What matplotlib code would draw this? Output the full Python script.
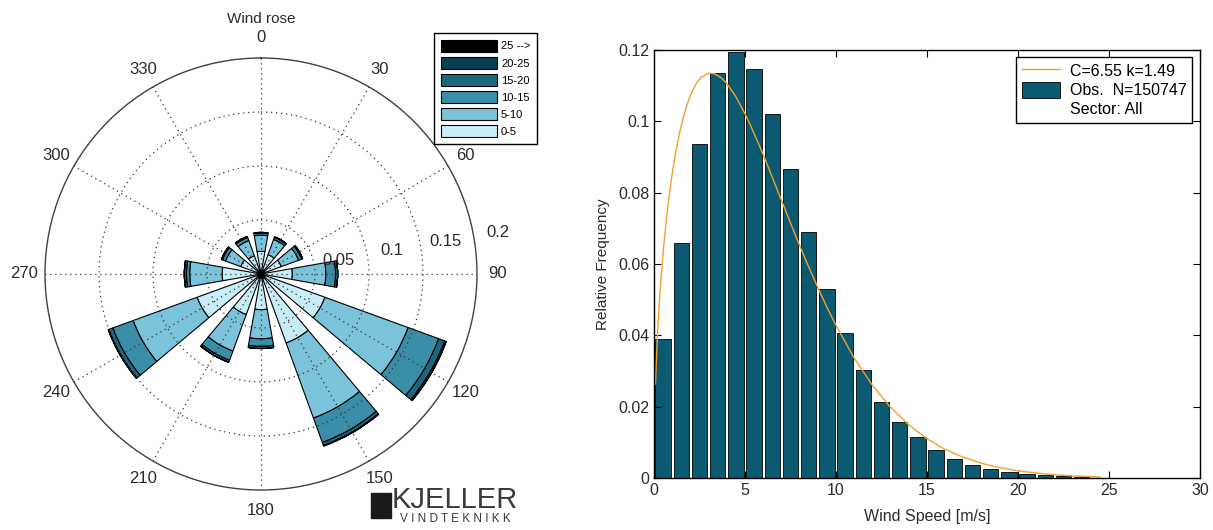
import numpy as np
import matplotlib
matplotlib.use("Agg")
import matplotlib.pyplot as plt
from matplotlib.patches import Patch, Rectangle
from matplotlib.lines import Line2D
from matplotlib.ticker import FuncFormatter

plt.rcParams['font.family'] = ['Liberation Sans', 'DejaVu Sans']

# ---- wind rose data: frequency per sector for each speed class ----
directions = [0, 30, 60, 90, 120, 150, 180, 210, 240, 270, 300, 330]
freq_0_5   = [0.021, 0.019, 0.020, 0.029, 0.063, 0.068, 0.033, 0.040, 0.063, 0.036, 0.020, 0.018]
freq_5_10  = [0.015, 0.015, 0.017, 0.031, 0.082, 0.074, 0.027, 0.036, 0.063, 0.030, 0.015, 0.015]
freq_10_15 = [0.002, 0.002, 0.003, 0.009, 0.030, 0.024, 0.007, 0.009, 0.020, 0.003, 0.003, 0.003]
freq_15_20 = [0.0005, 0.0005, 0.001, 0.002, 0.006, 0.003, 0.002, 0.002, 0.004, 0.002, 0.001, 0.001]
freq_20_25 = [0, 0, 0, 0, 0.0015, 0.0005, 0, 0, 0.0005, 0, 0, 0]
freq_25_up = [0, 0, 0, 0, 0, 0, 0, 0, 0, 0, 0, 0]
speed_classes = ['0-5', '5-10', '10-15', '15-20', '20-25', '25 -->']
class_colors = ['#c8ecf8', '#7bc3da', '#3a8ea8', '#19687f', '#083f50', '#000000']
ring_values = [0.05, 0.1, 0.15, 0.2]

# ---- wind speed distribution ----
bin_centers = [0.5, 1.5, 2.5, 3.5, 4.5, 5.5, 6.5, 7.5, 8.5, 9.5, 10.5, 11.5, 12.5,
               13.5, 14.5, 15.5, 16.5, 17.5, 18.5, 19.5, 20.5, 21.5, 22.5, 23.5, 24.5]
rel_freq = [0.0389, 0.0659, 0.0937, 0.1136, 0.1193, 0.1147, 0.1020, 0.0865, 0.0690,
            0.0529, 0.0406, 0.0304, 0.0212, 0.0157, 0.0115, 0.0079, 0.0054, 0.0037,
            0.0026, 0.0017, 0.0012, 0.0008, 0.0006, 0.0003, 0.0001]
# fitted weibull curve
curve_ws = [0.08, 0.12, 0.2, 0.3, 0.4, 0.55, 0.7, 0.85, 1.0, 1.2, 1.4, 1.6, 1.8, 2.0,
            2.3, 2.6, 3.0, 3.3, 3.7, 4.0, 4.5, 5.0, 5.3, 5.6, 6.0, 6.5, 7.0, 7.5, 8.0,
            8.5, 9.0, 9.5, 10.0, 11.0, 12.0, 13.0, 14.0, 15.0, 16.0, 17.0, 18.0, 19.0,
            20.0, 21.0, 22.0, 23.0, 24.5]
curve_pdf = [0.0263, 0.0320, 0.0409, 0.0497, 0.0569, 0.0659, 0.0734, 0.0798, 0.0853,
             0.0915, 0.0966, 0.1009, 0.1044, 0.1073, 0.1104, 0.1124, 0.1135, 0.1134,
             0.1122, 0.1106, 0.1069, 0.1021, 0.0989, 0.0954, 0.0907, 0.0843, 0.0779,
             0.0715, 0.0652, 0.0592, 0.0534, 0.0479, 0.0428, 0.0336, 0.0260, 0.0198,
             0.0149, 0.0110, 0.0080, 0.0058, 0.0041, 0.0029, 0.0020, 0.0014, 0.0009,
             0.0006, 0.0003]

W, H = 1213, 530
fig = plt.figure(figsize=(W / 100, H / 100), dpi=100)
txt = '#2b2b2b'

# ---------------- wind rose ----------------
cx, cy, R = 261, 274, 216
ax_r = fig.add_axes([(cx - R) / W, (H - cy - R) / H, 2 * R / W, 2 * R / H], projection='polar')
ax_r.set_theta_zero_location('N')
ax_r.set_theta_direction(-1)

theta = np.deg2rad(directions)
bottom = np.zeros(len(directions))
class_freqs = [freq_0_5, freq_5_10, freq_10_15, freq_15_20, freq_20_25, freq_25_up]
for vals, col in zip(class_freqs, class_colors):
    vals = np.array(vals)
    ax_r.bar(theta, vals, width=np.deg2rad(20), bottom=bottom, color=col,
             edgecolor='black', linewidth=0.8, align='center')
    bottom += vals
ax_r.plot([0], [0], 's', ms=5, color='black', zorder=3)

ax_r.set_ylim(0, 0.2)
ax_r.set_rticks(ring_values[:-1])
ax_r.set_yticklabels([])
ax_r.set_thetagrids(directions, labels=[''] * len(directions))
ax_r.set_axisbelow(False)
ax_r.grid(True, linestyle=(0, (1, 3)), color='0.2', linewidth=0.9)
ax_r.spines['polar'].set_linewidth(1.0)
ax_r.spines['polar'].set_color('0.25')

for ang in directions:
    ax_r.text(np.deg2rad(ang), 0.219, str(ang), ha='center', va='center',
              fontsize=12, color=txt)
for rv in ring_values:
    ax_r.text(np.deg2rad(80), rv + 0.023, f'{rv:g}', ha='center', va='center',
              fontsize=12, color=txt)

fig.text(cx / W, 1 - 19 / H, 'Wind rose', ha='center', va='center', fontsize=11, color=txt)

handles = [Patch(facecolor=c, edgecolor='black', linewidth=0.8) for c in class_colors[::-1]]
ax_r.legend(handles, speed_classes[::-1], loc='upper right',
            bbox_to_anchor=(537 / W, 1 - 33 / H), bbox_transform=fig.transFigure,
            fontsize=8, handlelength=5.0, handleheight=1.3, labelspacing=0.45,
            handletextpad=0.4, borderpad=0.6, fancybox=False, edgecolor='black',
            framealpha=1, borderaxespad=0)

# logo
fig.patches.append(Rectangle((371 / W, 1 - 518 / H), 20 / W, 25 / H, color='#1a1a1a',
                             transform=fig.transFigure, figure=fig))
fig.text(455 / W, 1 - 500 / H, 'KJELLER', ha='center', va='center', fontsize=21,
         color='#3a3a3a')
fig.text(455 / W, 1 - 519 / H, 'V I N D T E K N I K K', ha='center', va='center',
         fontsize=8.5, color='#3a3a3a')

# ---------------- histogram ----------------
ax_h = fig.add_axes([654 / W, (H - 478) / H, 546 / W, 428 / H])
ax_h.bar(bin_centers, rel_freq, width=0.84, color='#0b5a72', edgecolor='black',
         linewidth=0.6)
ax_h.plot(curve_ws, curve_pdf, color='#f0a22e', lw=1.0)
ax_h.set_xlim(0, 30)
ax_h.set_ylim(0, 0.12)
ax_h.set_xticks(range(0, 31, 5))
ax_h.set_yticks([0, 0.02, 0.04, 0.06, 0.08, 0.1, 0.12])
ax_h.yaxis.set_major_formatter(FuncFormatter(lambda v, p: f'{v:g}'))
ax_h.tick_params(direction='in', top=True, right=True, length=5, labelsize=11.5,
                 labelcolor=txt, width=0.8)
for s in ax_h.spines.values():
    s.set_linewidth(1.0)
ax_h.set_xlabel('Wind Speed [m/s]', fontsize=11.5, color=txt, labelpad=8)
ax_h.set_ylabel('Relative Frequency', fontsize=11, color=txt, labelpad=6)

leg_handles = [Line2D([], [], color='#f0a22e', lw=1.0),
               Patch(facecolor='#0b5a72', edgecolor='black', linewidth=0.6),
               Line2D([], [], linestyle='none')]
ax_h.legend(leg_handles, ['C=6.55 k=1.49', 'Obs.  N=150747', 'Sector: All'],
            loc='upper right', bbox_to_anchor=(1192 / W, 1 - 57 / H),
            bbox_transform=fig.transFigure, fontsize=11.5, handlelength=2.4,
            handleheight=1.2, labelspacing=0.15, handletextpad=0.6, borderpad=0.35,
            fancybox=False, edgecolor='black', framealpha=1, borderaxespad=0)

fig.savefig('out.png', dpi=100)
